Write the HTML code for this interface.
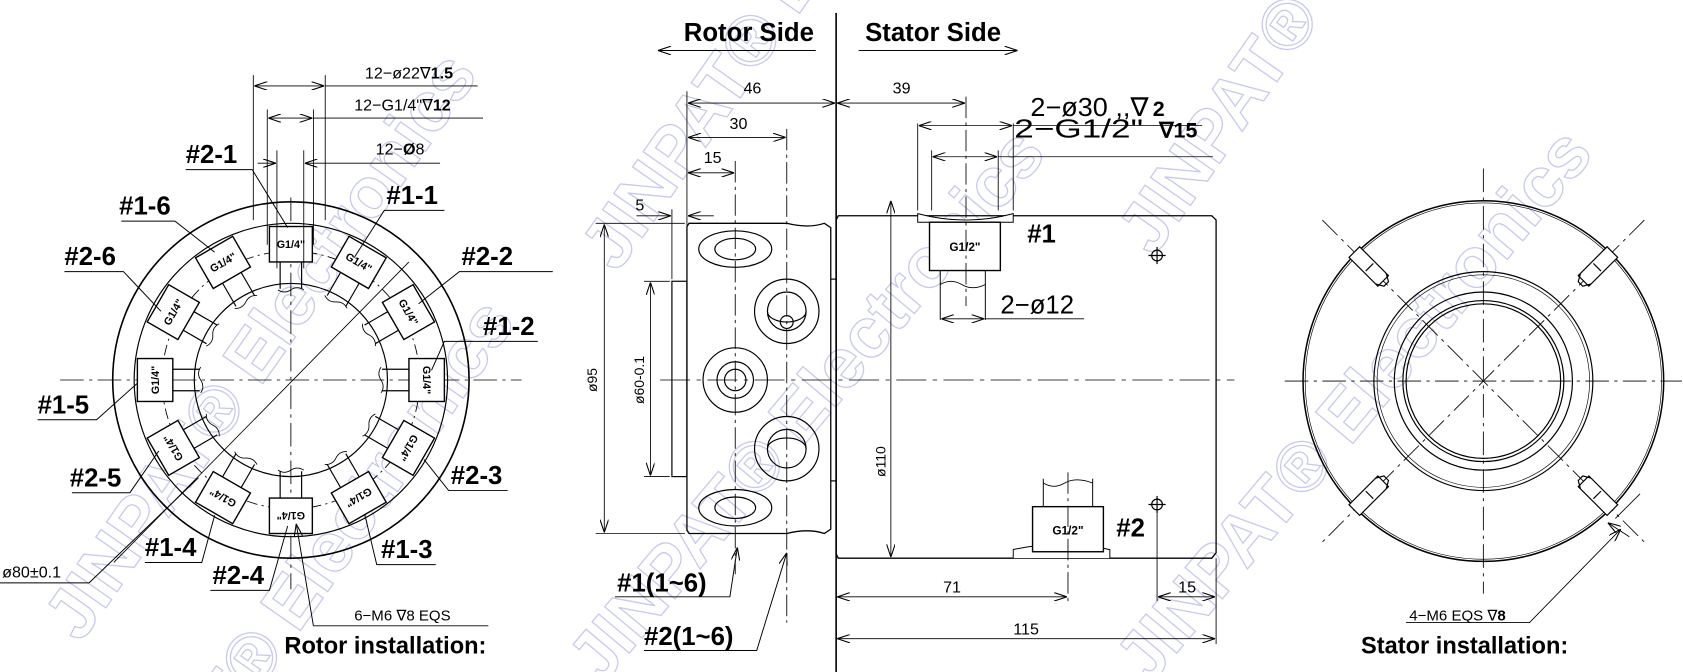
<!DOCTYPE html>
<html><head><meta charset="utf-8"><style>
html,body{margin:0;padding:0;background:#fff;overflow:hidden;width:1683px;height:672px}
svg{display:block;overflow:hidden}
.t{font-family:"Liberation Sans",sans-serif;fill:#000}
.b{font-weight:bold}
</style></head><body>
<svg width="1683" height="672" viewBox="0 0 1568 626" xmlns="http://www.w3.org/2000/svg">
<defs>
<marker id="a" viewBox="0 0 12 8" refX="12" refY="4" markerWidth="12" markerHeight="8" orient="auto-start-reverse" markerUnits="userSpaceOnUse"><path d="M0,0 L12,4 L0,8" fill="none" stroke="#000" stroke-width="1"/></marker>
<clipPath id="cp"><rect x="0" y="0" width="1568" height="626"/></clipPath>
</defs>
<g clip-path="url(#cp)">
<!-- watermarks -->
<g font-family="Liberation Sans,sans-serif" font-weight="bold" font-size="66" fill="none" stroke="#c9c9ee" stroke-width="1.2">
<text transform="translate(75,600) rotate(-55)">JINPAT® Electronics</text>
<text transform="translate(110,830) rotate(-55)">JINPAT® Electronics</text>
<text transform="translate(575,255) rotate(-55)">JINPAT® Electronics</text>
<text transform="translate(560,640) rotate(-50)">JINPAT® Electronics</text>
<text transform="translate(1075,240) rotate(-55)">JINPAT® Electronics</text>
<text transform="translate(1070,640) rotate(-50)">JINPAT® Electronics</text>
</g>
<g fill="none" stroke="#000" stroke-width="1.1">
<!-- ================= LEFT VIEW ================= -->
<g transform="translate(271,354)">
<circle r="166" stroke-width="1.5"/>
<circle r="146"/>
<circle r="90"/>
<circle r="120" stroke-dasharray="10,4,2,4" stroke-width="0.8"/>
<line x1="-215" y1="0" x2="215" y2="0" stroke-dasharray="22,5,3,5" stroke-width="0.8"/>
<line x1="0" y1="-170" x2="0" y2="195" stroke-dasharray="22,5,3,5" stroke-width="0.8"/>
<line x1="-165" y1="170" x2="110" y2="-110" stroke-width="0.8"/>
<g id="blk">
<rect x="-20" y="-143" width="40" height="33" fill="#fff" stroke-width="1.3"/>
<line x1="-10" y1="-110" x2="-10" y2="-85"/><line x1="10" y1="-110" x2="10" y2="-85"/>
<path d="M-12,-84 q6,4 12,0 q6,-4 12,0" stroke-width="0.8"/>
<text class="t b" x="0" y="-123" font-size="10" text-anchor="middle" stroke="none">G1/4"</text>
</g>
<use href="#blk" transform="rotate(30)"/><use href="#blk" transform="rotate(60)"/><use href="#blk" transform="rotate(90)"/>
<use href="#blk" transform="rotate(120)"/><use href="#blk" transform="rotate(150)"/><use href="#blk" transform="rotate(180)"/>
<use href="#blk" transform="rotate(210)"/><use href="#blk" transform="rotate(240)"/><use href="#blk" transform="rotate(270)"/>
<use href="#blk" transform="rotate(300)"/><use href="#blk" transform="rotate(330)"/>
</g>
<!-- top dims left -->
<line x1="236" y1="70" x2="236" y2="205" stroke-width="0.8"/><line x1="303" y1="70" x2="303" y2="205" stroke-width="0.8"/>
<line x1="237" y1="80" x2="302" y2="80" marker-start="url(#a)" marker-end="url(#a)" stroke-width="0.8"/>
<line x1="303" y1="80" x2="445" y2="80" stroke-width="0.8"/>
<line x1="249" y1="102" x2="249" y2="228" stroke-width="0.8"/><line x1="292" y1="102" x2="292" y2="228" stroke-width="0.8"/>
<line x1="250" y1="110" x2="291" y2="110" marker-start="url(#a)" marker-end="url(#a)" stroke-width="0.8"/>
<line x1="292" y1="110" x2="450" y2="110" stroke-width="0.8"/>
<line x1="258" y1="140" x2="258" y2="250" stroke-width="0.8"/><line x1="283" y1="140" x2="283" y2="250" stroke-width="0.8"/>
<line x1="240" y1="152" x2="257" y2="152" marker-end="url(#a)" stroke-width="0.8"/>
<line x1="284" y1="152" x2="410" y2="152" marker-start="url(#a)" stroke-width="0.8"/>
<!-- leaders left -->
<g stroke-width="0.9">
<path d="M173,158 H235 L268,212"/>
<path d="M414,196 H358 L330,240"/>
<path d="M113,206 H163 L200,235"/>
<path d="M60,253 H115 L150,290"/>
<path d="M515,253 H428 L390,283"/>
<path d="M501,318 H414 L402,345"/>
<path d="M35,391 H90 L128,357"/>
<path d="M67,459 H121 L148,420"/>
<path d="M473,457 H418 L395,428"/>
<path d="M135,524 H188 L200,480"/>
<path d="M406,526 H351 L340,480"/>
<path d="M196,550 H251 L268,490"/>
<path d="M0,543 H83 L185,445"/>
<path d="M292,583 L276,488" marker-end="url(#a)"/>
<path d="M292,583 H455"/>
</g>
<!-- ================= MIDDLE VIEW ================= -->
<line x1="779" y1="12" x2="779" y2="626" stroke-width="1.5"/>
<line x1="613" y1="47" x2="760" y2="47" marker-start="url(#a)" stroke-width="0.9"/>
<line x1="800" y1="47" x2="948" y2="47" marker-end="url(#a)" stroke-width="0.9"/>
<!-- rotor body -->
<path d="M642,208 H733 q20,5 35,0 L774,212 V493 L768,497 q-15,-5 -35,0 H642 L640,494 V211 Z" stroke-width="1.2"/>
<rect x="626" y="262" width="14" height="182" stroke-width="1.1"/>
<line x1="774" y1="260" x2="779" y2="260"/><line x1="774" y1="448" x2="779" y2="448"/>
<ellipse cx="685" cy="232" rx="34" ry="17"/><ellipse cx="685" cy="232" rx="19" ry="10"/>
<ellipse cx="685" cy="473" rx="34" ry="17"/><ellipse cx="685" cy="473" rx="19" ry="10"/>
<circle cx="733" cy="290" r="30"/><circle cx="733" cy="290" r="18"/><circle cx="733" cy="300" r="6"/><path d="M715,290 a18,10 0 0 0 36,0"/>
<circle cx="733" cy="418" r="30"/><circle cx="733" cy="418" r="18"/><path d="M715,418 a18,10 0 0 1 36,0"/>
<circle cx="685" cy="354" r="30"/><circle cx="685" cy="354" r="17"/><circle cx="685" cy="354" r="10"/>
<line x1="685" y1="150" x2="685" y2="535" stroke-dasharray="20,4,3,4" stroke-width="0.8"/>
<line x1="733" y1="120" x2="733" y2="580" stroke-dasharray="20,4,3,4" stroke-width="0.8"/>
<line x1="615" y1="354" x2="1150" y2="354" stroke-dasharray="28,6,4,6" stroke-width="0.8"/>
<!-- rotor dims -->
<line x1="640" y1="85" x2="640" y2="210" stroke-width="0.8"/>
<line x1="641" y1="96" x2="778" y2="96" marker-start="url(#a)" marker-end="url(#a)" stroke-width="0.8"/>
<line x1="641" y1="128" x2="732" y2="128" marker-start="url(#a)" marker-end="url(#a)" stroke-width="0.8"/>
<line x1="641" y1="161" x2="684" y2="161" marker-start="url(#a)" marker-end="url(#a)" stroke-width="0.8"/>
<line x1="626" y1="195" x2="626" y2="260" stroke-width="0.8"/>
<line x1="593" y1="201" x2="625" y2="201" marker-end="url(#a)" stroke-width="0.8"/>
<line x1="641" y1="201" x2="665" y2="201" marker-start="url(#a)" stroke-width="0.8"/>
<line x1="555" y1="208" x2="638" y2="208" stroke-width="0.8"/><line x1="555" y1="497" x2="638" y2="497" stroke-width="0.8"/>
<line x1="563" y1="209" x2="563" y2="496" marker-start="url(#a)" marker-end="url(#a)" stroke-width="0.8"/>
<line x1="600" y1="262" x2="624" y2="262" stroke-width="0.8"/><line x1="600" y1="444" x2="624" y2="444" stroke-width="0.8"/>
<line x1="606" y1="263" x2="606" y2="443" marker-start="url(#a)" marker-end="url(#a)" stroke-width="0.8"/>
<path d="M573,556 H680 L687,510" stroke-width="0.9" marker-end="url(#a)"/>
<path d="M600,606 H705 L733,515" stroke-width="0.9" marker-end="url(#a)"/>
<!-- stator body -->
<path d="M781,201 H1129 L1133,205 V515 L1129,520 H781 L779,516 V205 Z" stroke-width="1.2"/>
<!-- port #1 -->
<line x1="855" y1="115" x2="855" y2="196" stroke-width="0.8"/><line x1="944" y1="115" x2="944" y2="196" stroke-width="0.8"/>
<line x1="856" y1="117" x2="943" y2="117" marker-start="url(#a)" marker-end="url(#a)" stroke-width="0.8"/>
<line x1="944" y1="117" x2="1120" y2="117" stroke-width="0.8"/>
<line x1="868" y1="140" x2="868" y2="196" stroke-width="0.8"/><line x1="930" y1="140" x2="930" y2="196" stroke-width="0.8"/>
<line x1="869" y1="146" x2="929" y2="146" marker-start="url(#a)" marker-end="url(#a)" stroke-width="0.8"/>
<line x1="930" y1="146" x2="1130" y2="146" stroke-width="0.8"/>
<path d="M855,199 q45,12 89,0 V207 H855 Z" fill="#fff" stroke-width="0.9"/>
<rect x="866" y="207" width="66" height="45" fill="#fff" stroke-width="1.3"/>
<line x1="876" y1="252" x2="876" y2="298" stroke-width="0.9"/><line x1="918" y1="252" x2="918" y2="298" stroke-width="0.9"/>
<path d="M876,265 q10,-6 20,0 q10,6 22,0" stroke-width="0.8"/>
<line x1="900" y1="90" x2="900" y2="285" stroke-dasharray="20,4,3,4" stroke-width="0.8"/>
<line x1="780" y1="96" x2="899" y2="96" marker-start="url(#a)" marker-end="url(#a)" stroke-width="0.8"/>
<line x1="877" y1="297" x2="917" y2="297" marker-start="url(#a)" marker-end="url(#a)" stroke-width="0.8"/>
<line x1="918" y1="297" x2="1010" y2="297" stroke-width="0.8"/>
<!-- port #2 -->
<path d="M944,520 V512 q45,-10 90,0 V520" fill="#fff" stroke-width="0.9"/>
<rect x="962" y="472" width="66" height="42" fill="#fff" stroke-width="1.3"/>
<line x1="972" y1="472" x2="972" y2="446" stroke-width="0.9"/><line x1="1018" y1="472" x2="1018" y2="446" stroke-width="0.9"/>
<path d="M972,450 q10,6 20,0 q10,-6 26,0" stroke-width="0.8"/>
<line x1="995" y1="440" x2="995" y2="560" stroke-dasharray="20,4,3,4" stroke-width="0.8"/>
<!-- markers -->
<circle cx="1078" cy="238" r="5"/><line x1="1070" y1="238" x2="1086" y2="238"/><line x1="1078" y1="230" x2="1078" y2="246"/>
<circle cx="1078" cy="470" r="5"/><line x1="1070" y1="470" x2="1086" y2="470"/><line x1="1078" y1="462" x2="1078" y2="478"/>
<line x1="1078" y1="478" x2="1078" y2="560" stroke-width="0.8"/>
<!-- ø110 -->
<line x1="830" y1="187" x2="830" y2="519" marker-start="url(#a)" marker-end="url(#a)" stroke-width="0.8"/>
<!-- bottom dims -->
<line x1="1133" y1="520" x2="1133" y2="600" stroke-width="0.8"/>
<line x1="780" y1="556" x2="994" y2="556" marker-start="url(#a)" marker-end="url(#a)" stroke-width="0.8"/>
<line x1="1079" y1="556" x2="1132" y2="556" marker-start="url(#a)" marker-end="url(#a)" stroke-width="0.8"/>
<line x1="780" y1="595" x2="1132" y2="595" marker-start="url(#a)" marker-end="url(#a)" stroke-width="0.8"/>
<!-- ================= RIGHT VIEW ================= -->
<g transform="translate(1382,355)">
<circle r="168" stroke-width="1.4"/><circle r="166" stroke-width="0.6"/>
<circle r="102"/><circle r="99" stroke-width="0.6"/><circle r="83"/><circle r="75"/><circle r="72"/>
<line x1="-185" y1="0" x2="185" y2="0" stroke-dasharray="22,5,3,5" stroke-width="0.8"/>
<line x1="0" y1="-198" x2="0" y2="198" stroke-dasharray="22,5,3,5" stroke-width="0.8"/>
<g stroke-width="0.8" stroke-dasharray="20,5,3,5">
<line x1="-150" y1="-150" x2="150" y2="150"/><line x1="150" y1="-150" x2="-150" y2="150"/>
</g>
<g id="scr" transform="rotate(-45)">
<rect x="-7" y="-170" width="14" height="38" fill="#fff"/>
<path d="M-7,-135 L-3,-128 H3 L7,-135"/>
<line x1="-5" y1="-150" x2="5" y2="-150"/>
</g>
<use href="#scr" transform="rotate(90)"/><use href="#scr" transform="rotate(180)"/><use href="#scr" transform="rotate(270)"/>
</g>
<line x1="1528" y1="460" x2="1505" y2="483" stroke-width="0.8"/>
<line x1="1518" y1="500" x2="1498" y2="487" marker-end="url(#a)" stroke-width="0.8"/>
<path d="M1310,580 H1425 L1510,493" stroke-width="0.8" marker-end="url(#a)"/>
</g>
<!-- TEXT -->
<g class="t">
<text x="340" y="73" font-size="15">12−ø22∇<tspan font-weight="bold">1.5</tspan></text>
<text x="330" y="103" font-size="15">12−G1/4"∇<tspan font-weight="bold">12</tspan></text>
<text x="350" y="144" font-size="15">12−<tspan font-weight="bold">Ø</tspan>8</text>
<g class="b" font-size="24">
<text x="173" y="152">#2-1</text><text x="360" y="190">#1-1</text>
<text x="111" y="200">#1-6</text><text x="60" y="247">#2-6</text>
<text x="430" y="247">#2-2</text><text x="450" y="312">#1-2</text>
<text x="35" y="385">#1-5</text><text x="65" y="453">#2-5</text>
<text x="420" y="451">#2-3</text><text x="135" y="518">#1-4</text>
<text x="355" y="520">#1-3</text><text x="198" y="544">#2-4</text>
<text x="575" y="551">#1(1~6)</text><text x="600" y="601">#2(1~6)</text>
<text x="957" y="226">#1</text><text x="1040" y="500">#2</text>
<text x="637" y="38">Rotor Side</text><text x="806" y="38">Stator Side</text>
</g>
<text x="2" y="538" font-size="15">ø80±0.1</text>
<text x="330" y="578" font-size="14">6−M6 ∇8 EQS</text>
<text x="265" y="609" font-size="22" class="b">Rotor installation:</text>
<text x="1268" y="609" font-size="22" class="b">Stator installation:</text>
<text x="1313" y="578" font-size="14">4−M6 EQS ∇<tspan font-weight="bold">8</tspan></text>
<text x="701" y="87" font-size="15" text-anchor="middle">46</text>
<text x="688" y="120" font-size="15" text-anchor="middle">30</text>
<text x="664" y="152" font-size="15" text-anchor="middle">15</text>
<text x="592" y="196" font-size="15">5</text>
<text x="840" y="87" font-size="15" text-anchor="middle">39</text>
<text x="887" y="552" font-size="15" text-anchor="middle">71</text>
<text x="1106" y="552" font-size="15" text-anchor="middle">15</text>
<text x="956" y="591" font-size="15" text-anchor="middle">115</text>
<text x="960" y="108" font-size="24" textLength="110" lengthAdjust="spacingAndGlyphs">2−ø30 ,,∇</text>
<text x="1074" y="108" font-size="20" class="b">2</text>
<text x="945" y="128" font-size="24" textLength="120" lengthAdjust="spacingAndGlyphs">2−G1/2"</text>
<text x="1080" y="128" font-size="20" class="b">∇15</text>
<text x="932" y="292" font-size="24">2−ø12</text>
<text x="899" y="234" font-size="11" class="b" text-anchor="middle">G1/2"</text>
<text x="995" y="498" font-size="11" class="b" text-anchor="middle">G1/2"</text>
<text transform="translate(556,354) rotate(-90)" font-size="13" text-anchor="middle">ø95</text>
<text transform="translate(600,354) rotate(-90)" font-size="13" text-anchor="middle">ø60-0.1</text>
<text transform="translate(825,430) rotate(-90)" font-size="13" text-anchor="middle">ø110</text>
</g>
</g>
</svg>
</body></html>
